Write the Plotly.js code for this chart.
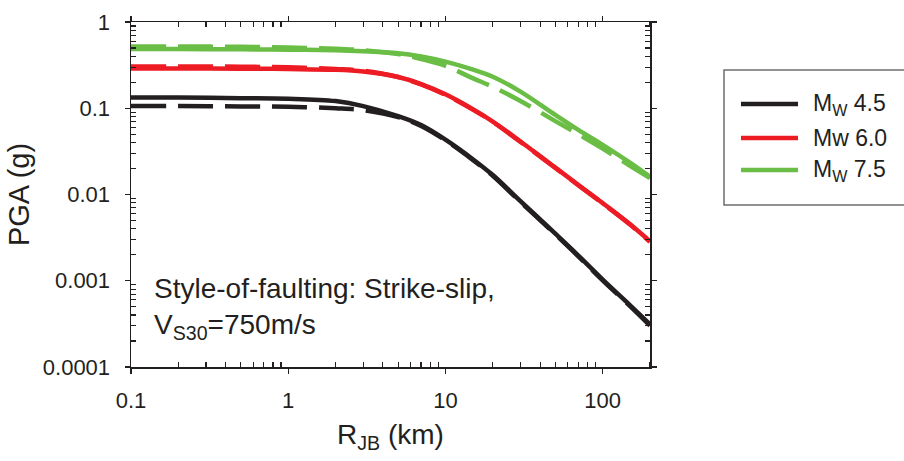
<!DOCTYPE html>
<html>
<head>
<meta charset="utf-8">
<script src="https://cdn.plot.ly/plotly-3.0.1.min.js"></script>
<style>html,body{margin:0;padding:0;background:#fff;}#chart{width:904px;height:461px;}</style>
</head>
<body>
<div id="chart"></div>
<script>
// Distances (km)
const distance = [0.1, 0.2, 0.5, 1, 2, 3, 5, 7, 10, 15, 20, 30, 50, 70, 100, 150, 200];

// PGA (g) - solid curves
const m45_solid = [0.133, 0.133, 0.131, 0.129, 0.121, 0.106, 0.081, 0.0638, 0.0432, 0.0255, 0.0168, 0.00838, 0.00351, 0.00196, 0.00103, 0.000515, 0.000313];
const m60_solid = [0.289, 0.289, 0.288, 0.285, 0.279, 0.266, 0.230, 0.191, 0.145, 0.097, 0.0701, 0.0411, 0.0205, 0.0129, 0.00794, 0.00448, 0.00286];
const m75_solid = [0.485, 0.485, 0.482, 0.478, 0.470, 0.458, 0.434, 0.398, 0.347, 0.280, 0.232, 0.156, 0.0836, 0.056, 0.0376, 0.0232, 0.016];

// PGA (g) - dashed curves
const m45_dash = [0.106, 0.106, 0.105, 0.104, 0.100, 0.095, 0.079, 0.0625, 0.0425, 0.025, 0.0165, 0.0082, 0.00345, 0.00192, 0.00101, 0.000505, 0.000302];
const m60_dash = [0.305, 0.305, 0.303, 0.298, 0.285, 0.272, 0.230, 0.189, 0.143, 0.096, 0.0695, 0.0408, 0.0203, 0.0128, 0.0079, 0.00445, 0.00283];
const m75_dash = [0.52, 0.52, 0.515, 0.505, 0.49, 0.47, 0.425, 0.372, 0.31, 0.222, 0.177, 0.1215, 0.071, 0.050, 0.034, 0.0214, 0.0155];

const seriesNames = ["M<sub>W</sub> 4.5", "Mw 6.0", "M<sub>W</sub> 7.5"];
const seriesColors = ["#231f20", "#ed1c24", "#6abd45"];

const xTickVals = [0.1, 1, 10, 100];
const xTickText = ["0.1", "1", "10", "100"];
const yTickVals = [0.0001, 0.001, 0.01, 0.1, 1];
const yTickText = ["0.0001", "0.001", "0.01", "0.1", "1"];

const xMinor = [];
[0.1, 1, 10, 100].forEach(d => { for (let k = 2; k <= 9; k++) { const v = d * k; if (v <= 200) xMinor.push(v); } });
const yMinor = [];
[0.0001, 0.001, 0.01, 0.1].forEach(d => { for (let k = 2; k <= 9; k++) yMinor.push(d * k); });

const solids = [m45_solid, m60_solid, m75_solid];
const dashes = [m45_dash, m60_dash, m75_dash];
const traces = [];
for (let i = 0; i < 3; i++) {
  traces.push({x: distance, y: dashes[i], mode: 'lines', line: {color: seriesColors[i], width: 4.5, dash: '35px,12px', shape: 'spline', smoothing: 1}, showlegend: false, hoverinfo: 'skip'});
  traces.push({x: distance, y: solids[i], mode: 'lines', line: {color: seriesColors[i], width: 4.5, shape: 'spline', smoothing: 1}, showlegend: false, hoverinfo: 'skip'});
}

const font = 'Liberation Sans, Arial, Helvetica, sans-serif';
const ink = '#231f20';

// manual legend (box extends beyond the right edge)
const legendRows = [0.7623, 0.6638, 0.571];
const shapes = [{type: 'rect', xref: 'paper', yref: 'paper', x0: 1.1426, x1: 1.6, y0: 0.4696, y1: 0.8609, line: {color: '#6d6e71', width: 1.5}, fillcolor: 'rgba(0,0,0,0)'}];
const annotations = [];
for (let i = 0; i < 3; i++) {
  shapes.push({type: 'line', xref: 'paper', yref: 'paper', x0: 1.1753, x1: 1.2852, y0: legendRows[i], y1: legendRows[i], line: {color: seriesColors[i], width: 4.5}});
  annotations.push({xref: 'paper', yref: 'paper', x: 1.3102, y: legendRows[i], xanchor: 'left', yanchor: 'middle', text: seriesNames[i], showarrow: false, font: {family: font, size: 23, color: ink}});
}
annotations.push({xref: 'paper', yref: 'paper', x: 0.0405, y: 0.2261, xanchor: 'left', yanchor: 'middle', text: 'Style-of-faulting: Strike-slip,', showarrow: false, font: {family: font, size: 28, color: ink}});
annotations.push({xref: 'paper', yref: 'paper', x: 0.0405, y: 0.118, xanchor: 'left', yanchor: 'middle', text: 'V<sub>S30</sub>=750m/s', showarrow: false, font: {family: font, size: 28, color: ink}});

const axisCommon = {
  type: 'log', showgrid: false, zeroline: false, showline: true, linecolor: ink, linewidth: 1.5,
  mirror: 'allticks', ticks: 'outside', ticklen: 5, tickwidth: 1.2, tickcolor: ink,
  tickfont: {family: font, size: 22, color: ink}, tickmode: 'array'
};

const layout = {
  width: 904, height: 461,
  margin: {l: 131, r: 254, t: 22, b: 94},
  paper_bgcolor: '#fff', plot_bgcolor: '#fff',
  showlegend: false,
  xaxis: Object.assign({}, axisCommon, {
    range: [-1, Math.log10(200)], tickvals: xTickVals, ticktext: xTickText,
    minor: {tickmode: 'array', tickvals: xMinor, ticks: 'inside', ticklen: 5, tickwidth: 1.2, tickcolor: ink},
    ticklabelstandoff: 8,
    title: {text: 'R<sub>JB</sub> (km)', font: {family: font, size: 28, color: ink}, standoff: 12}
  }),
  yaxis: Object.assign({}, axisCommon, {
    range: [-4, 0], tickvals: yTickVals, ticktext: yTickText,
    minor: {tickmode: 'array', tickvals: yMinor, ticks: 'inside', ticklen: 5, tickwidth: 1.2, tickcolor: ink},
    ticklabelstandoff: 10,
    title: {text: 'PGA (g)', font: {family: font, size: 29, color: ink}, standoff: 4}
  }),
  shapes: shapes,
  annotations: annotations
};

Plotly.newPlot('chart', traces, layout, {displayModeBar: false, staticPlot: true});
</script>
</body>
</html>
